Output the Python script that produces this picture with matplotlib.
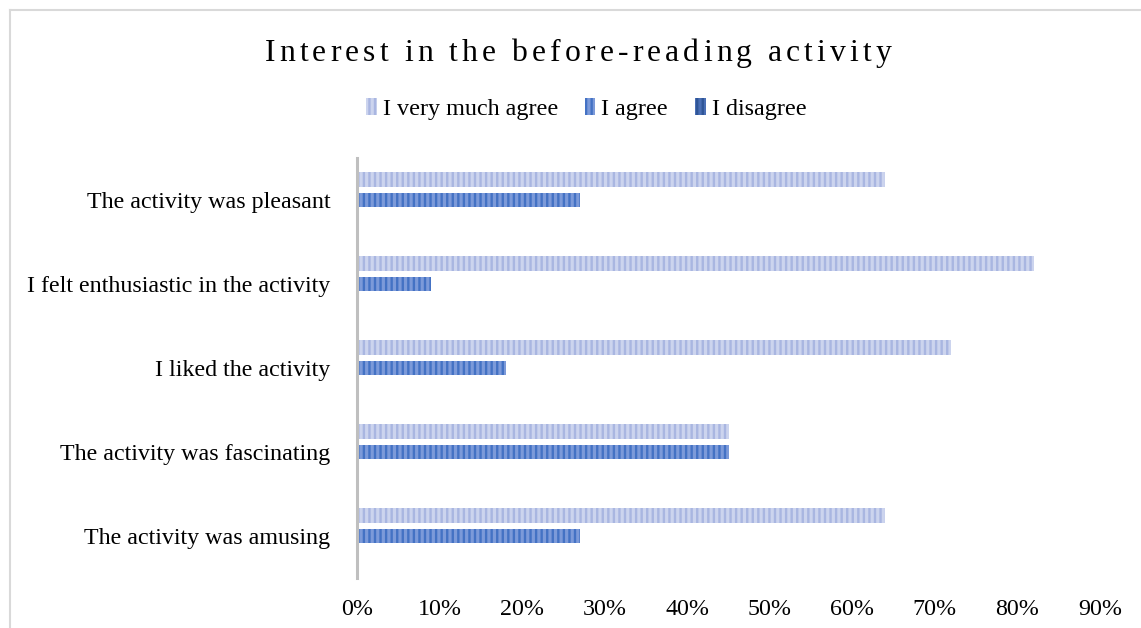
import matplotlib
matplotlib.use("Agg")
import matplotlib.pyplot as plt
from matplotlib.patches import Patch
from matplotlib.lines import Line2D
from matplotlib.font_manager import FontProperties, findfont, get_font
import numpy as np

# Survey results (percent of respondents)
categories = [
    "The activity was pleasant",
    "I felt enthusiastic in the activity",
    "I liked the activity",
    "The activity was fascinating",
    "The activity was amusing",
]
very_much_agree = [64, 82, 72, 45, 64]
agree = [27, 9, 18, 45, 27]
disagree = [0, 0, 0, 0, 0]
series_names = ["I very much agree", "I agree", "I disagree"]
x_ticks = [0, 10, 20, 30, 40, 50, 60, 70, 80, 90]
title = "Interest in the before-reading activity"

FONT = "Liberation Serif"
plt.rcParams["font.family"] = [FONT, "DejaVu Serif"]
plt.rcParams["hatch.linewidth"] = 1.7

W, H = 1141, 628
fig = plt.figure(figsize=(W / 100, H / 100), dpi=100)
fig.patch.set_facecolor("white")

ax = fig.add_axes([357 / W, 1 - 578 / H, (1100 - 357) / W, (578 - 158) / H])

styles = [
    dict(facecolor="#CCD4EE", edgecolor="#A9B6E1"),
    dict(facecolor="#7C9AD9", edgecolor="#4472C4"),
    dict(facecolor="#4A6FB5", edgecolor="#2F5597"),
]
series = [very_much_agree, agree, disagree]
ypos = np.arange(len(categories))
offsets = [-0.245, 0.0, 0.245]
bar_h = 0.17
HATCH = "|||"

for vals, off, st in zip(series, offsets, styles):
    ax.barh(ypos + off, vals, height=bar_h, hatch=HATCH, linewidth=0, **st)

ax.set_xlim(0, 90)
ax.set_ylim(len(categories) - 0.5, -0.5)
ax.set_yticks(ypos)
ax.set_yticklabels(categories)
ax.set_xticks(x_ticks)
ax.set_xticklabels([f"{t}%" for t in x_ticks])
ax.tick_params(axis="y", length=0, pad=19, labelsize=17.3)
ax.tick_params(axis="x", length=0, pad=15, labelsize=17.3)
for s in ("top", "right", "bottom"):
    ax.spines[s].set_visible(False)
ax.spines["left"].set_color("#BFBFBF")
ax.spines["left"].set_linewidth(2.2)

# Legend
handles = [Patch(hatch=HATCH, linewidth=0, **st) for st in styles]
fig.legend(handles, series_names, loc="center", bbox_to_anchor=(586 / W, 1 - 109 / H),
           ncol=3, frameon=False, fontsize=17.4, handlelength=0.45, handleheight=0.7,
           handletextpad=0.25, columnspacing=1.1, borderaxespad=0)

# Letter-spaced title
title_pt = 22.8
font = get_font(findfont(FontProperties(family=FONT)))
font.set_size(title_pt, 100)
advances = []
for ch in title:
    g = font.load_char(ord(ch))
    advances.append(g.linearHoriAdvance / 65536.0)
spacing = 4.1
total = sum(advances) + spacing * (len(title) - 1)
x = 578 - total / 2
for ch, adv in zip(title, advances):
    fig.text(x / W, 1 - 61 / H, ch, fontsize=title_pt, ha="left", va="baseline",
             color="#000000")
    x += adv + spacing

# Chart area frame
frame_kw = dict(color="#D9D9D9", linewidth=1.5, transform=fig.transFigure)
fig.add_artist(Line2D([9.5 / W, 9.5 / W], [0, 1 - 10 / H], **frame_kw))
fig.add_artist(Line2D([9.5 / W, 1], [1 - 10 / H, 1 - 10 / H], **frame_kw))

fig.savefig("out.png", dpi=100, facecolor="white")
